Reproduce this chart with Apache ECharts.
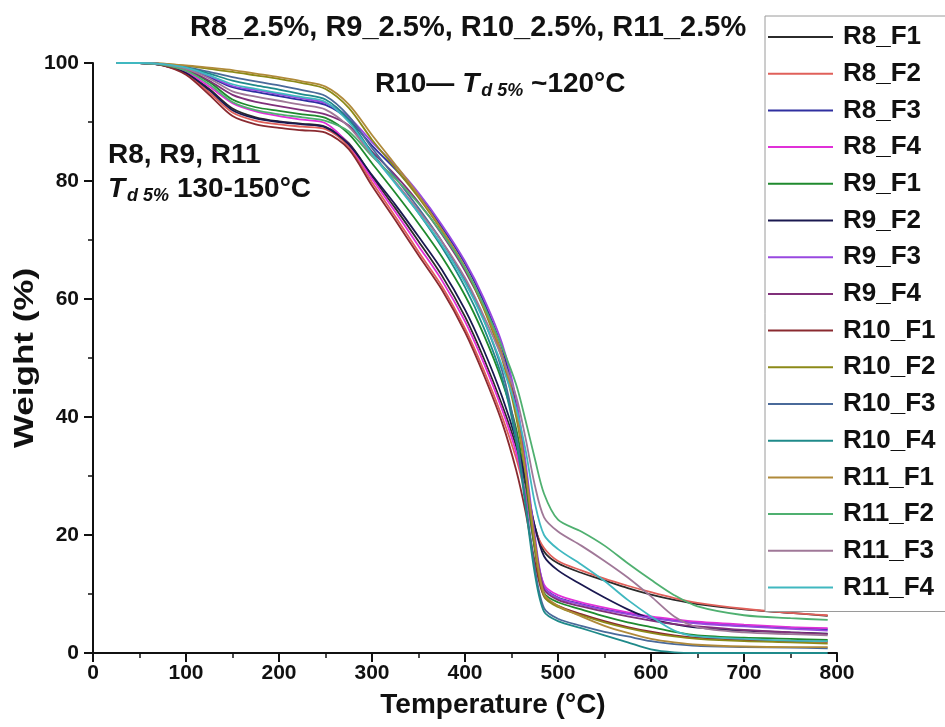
<!DOCTYPE html>
<html>
<head>
<meta charset="utf-8">
<script src="https://cdn.jsdelivr.net/npm/echarts@6/dist/echarts.min.js"></script>
<style>
  html, body { margin: 0; padding: 0; background: #fff; }
  #chart { width: 945px; height: 727px; }
</style>
</head>
<body>
<div id="chart"></div>
<script>
// TGA curves: weight (%) vs temperature (°C), all samples measured on one shared temperature grid
const temps = [25, 50, 75, 100, 125, 150, 175, 200, 225, 250, 275, 300, 325, 350, 375, 400, 420, 440, 455, 465, 475, 485, 500, 525, 550, 575, 600, 625, 650, 700, 750, 790];

const seriesNames = ['R8_F1', 'R8_F2', 'R8_F3', 'R8_F4', 'R9_F1', 'R9_F2', 'R9_F3', 'R9_F4',
                     'R10_F1', 'R10_F2', 'R10_F3', 'R10_F4', 'R11_F1', 'R11_F2', 'R11_F3', 'R11_F4'];

const seriesColors = ['#2b2b2b', '#e0605a', '#2f2fa0', '#e030d8', '#1f8a2e', '#1a1850', '#9848e0', '#80307a',
                      '#8a2a30', '#8c8a18', '#4a6a9a', '#1f8a8a', '#b08a3a', '#4fb070', '#a07898', '#40b8c0'];

const R8_F1 = [100, 100, 99.7, 98.4, 95.6, 92.3, 90.8, 90.1, 89.7, 89.2, 86.4, 80.8, 75.4, 69.8, 64.0, 57.0, 50.0, 42.0, 35, 28.5, 21.5, 17.2, 15.2, 13.6, 12.3, 11.0, 9.9, 9.0, 8.3, 7.4, 6.8, 6.3];
const R8_F2 = [100, 100, 99.6, 98.2, 95.0, 91.6, 90.2, 89.6, 89.2, 88.8, 85.8, 79.8, 74.0, 68.0, 62.2, 55.0, 48.0, 40.0, 33, 27, 21, 17.8, 15.6, 14.0, 12.6, 11.4, 10.3, 9.3, 8.5, 7.5, 6.8, 6.4];
const R8_F3 = [100, 100, 99.8, 99.1, 97.6, 95.9, 95.1, 94.4, 93.7, 92.9, 90.4, 86.0, 82.0, 77.6, 72.2, 66.0, 59.6, 51.6, 42, 31.5, 19, 11.2, 9.4, 8.3, 7.4, 6.7, 6.0, 5.5, 5.1, 4.6, 4.3, 4.0];
const R8_F4 = [100, 100, 99.7, 98.5, 96.0, 93.2, 91.8, 91.0, 90.4, 89.8, 86.2, 80.4, 74.8, 69.0, 63.2, 56.2, 49.2, 41.2, 34, 27, 18, 11.6, 9.8, 8.6, 7.7, 6.9, 6.2, 5.7, 5.3, 4.8, 4.4, 4.2];
const R9_F1 = [100, 100, 99.7, 98.8, 96.8, 93.8, 92.5, 91.9, 91.3, 90.7, 88.0, 83.0, 78.0, 72.8, 67.2, 60.6, 54.0, 46.0, 38, 29, 17.5, 10.2, 8.6, 7.4, 6.2, 5.2, 4.4, 3.6, 3.0, 2.6, 2.4, 2.2];
const R9_F2 = [100, 100, 99.6, 98.3, 95.4, 92.0, 90.6, 90.0, 89.6, 89.1, 86.2, 81.0, 76.0, 70.6, 65.0, 58.2, 51.4, 43.4, 36, 29.4, 21.5, 16.4, 14.0, 11.6, 9.4, 7.4, 5.8, 4.9, 4.3, 3.8, 3.5, 3.3];
const R9_F3 = [100, 100, 99.8, 99.2, 97.8, 96.1, 95.4, 94.7, 94.0, 93.2, 90.8, 86.6, 82.6, 78.0, 72.6, 66.4, 60.2, 52.4, 43, 32.5, 20, 11.2, 9.3, 8.2, 7.3, 6.6, 5.9, 5.4, 5.0, 4.5, 4.1, 3.8];
const R9_F4 = [100, 100, 99.7, 98.9, 97.0, 94.6, 93.4, 92.7, 92.0, 91.3, 89.4, 85.0, 81.0, 76.4, 71.0, 64.8, 58.6, 50.6, 41.5, 31, 19, 10.8, 9.0, 7.9, 7.0, 6.2, 5.5, 4.9, 4.5, 3.9, 3.5, 3.2];
const R10_F1 = [100, 100, 99.6, 98.0, 94.6, 91.0, 89.6, 89.0, 88.6, 88.2, 85.4, 79.2, 73.4, 67.4, 61.6, 54.4, 47.2, 39.0, 31, 24, 15.5, 9.6, 8.0, 6.6, 5.4, 4.4, 3.6, 3.0, 2.6, 2.2, 2.0, 1.9];
const R10_F2 = [100, 100, 99.9, 99.5, 99.0, 98.5, 97.9, 97.3, 96.6, 95.6, 92.4, 87.0, 82.2, 77.2, 71.6, 65.2, 58.4, 49.8, 40, 30.5, 18, 9.6, 7.8, 6.4, 5.2, 4.2, 3.4, 2.8, 2.4, 2.0, 1.8, 1.6];
const R10_F3 = [100, 100, 99.8, 99.3, 98.5, 97.6, 96.9, 96.2, 95.4, 94.4, 91.0, 85.6, 80.6, 75.4, 69.8, 63.2, 56.6, 47.8, 37, 26, 14.5, 7.6, 5.8, 4.6, 3.6, 2.8, 2.0, 1.5, 1.2, 1.0, 0.9, 0.8];
const R10_F4 = [100, 100, 99.8, 99.2, 98.2, 97.0, 96.2, 95.5, 94.7, 93.8, 90.4, 84.8, 79.8, 74.6, 68.8, 62.0, 55.2, 46.6, 36, 25, 13.5, 7.0, 5.4, 4.2, 3.0, 1.8, 0.6, 0.1, 0, 0, 0, 0];
const R11_F1 = [100, 100, 99.9, 99.6, 99.2, 98.8, 98.2, 97.6, 96.9, 96.0, 93.0, 87.8, 82.8, 77.6, 71.8, 65.4, 58.8, 50.4, 41, 31, 19, 10, 8.0, 6.2, 4.6, 3.4, 2.4, 1.8, 1.4, 1.1, 1.0, 1.0];
const R11_F2 = [100, 100, 99.7, 98.7, 96.4, 93.4, 92.0, 91.3, 90.8, 90.2, 88.4, 84.2, 80.4, 76.2, 71.2, 65.2, 59.0, 51.8, 45.5, 39.5, 33.0, 27.0, 22.6, 20.6, 18.2, 15.2, 12.4, 9.8, 7.9, 6.4, 5.9, 5.6];
const R11_F3 = [100, 100, 99.8, 99.0, 97.4, 95.2, 94.3, 93.6, 92.9, 92.1, 89.2, 84.4, 79.8, 75.0, 69.8, 63.6, 57.2, 50.0, 43.5, 36.5, 28.5, 23.0, 20.6, 18.2, 15.6, 12.8, 9.6, 6.2, 4.4, 3.5, 3.2, 3.0];
const R11_F4 = [100, 100, 99.8, 99.2, 97.9, 96.4, 95.6, 94.9, 94.2, 93.4, 90.0, 84.6, 79.6, 74.6, 69.2, 62.8, 56.4, 48.6, 41.5, 34.5, 25.5, 20.0, 17.6, 15.0, 12.2, 9.0, 6.2, 3.8, 2.8, 2.4, 2.1, 2.0];

const weightSets = [R8_F1, R8_F2, R8_F3, R8_F4, R9_F1, R9_F2, R9_F3, R9_F4,
                    R10_F1, R10_F2, R10_F3, R10_F4, R11_F1, R11_F2, R11_F3, R11_F4];

const xTicks = { min: 0, max: 800, interval: 100 };
const yTicks = { min: 0, max: 100, interval: 20 };

const FONT = 'Liberation Sans, Arial, sans-serif';

const chart = echarts.init(document.getElementById('chart'), null, { renderer: 'canvas' });

const series = seriesNames.map((name, i) => ({
  name: name,
  type: 'line',
  data: temps.map((t, k) => [t, weightSets[i][k]]),
  smooth: 0.3,
  symbol: 'none',
  showSymbol: false,
  lineStyle: { color: seriesColors[i], width: 1.8 },
  itemStyle: { color: seriesColors[i] },
  emphasis: { disabled: true },
  z: 2
}));

const labelStyle = { fontFamily: FONT, fontWeight: 'bold', fontSize: 21, color: '#111' };

const richTd = {
  n: { font: 'bold 28px ' + FONT, fill: '#111' },
  t: { font: 'italic bold 28px ' + FONT, fill: '#111' },
  s: { font: 'italic bold 18px ' + FONT, fill: '#111', padding: [14, 0, 0, 2] }
};

chart.setOption({
  backgroundColor: '#ffffff',
  animation: false,
  grid: { left: 93, right: 108, top: 63, bottom: 74, containLabel: false },
  xAxis: {
    type: 'value',
    min: xTicks.min, max: xTicks.max, interval: xTicks.interval,
    axisLine: { show: true, onZero: false, lineStyle: { color: '#111', width: 2 } },
    axisTick: { show: true, inside: false, length: 9, lineStyle: { color: '#111', width: 2 } },
    minorTick: { show: true, splitNumber: 2, length: 5, lineStyle: { color: '#111', width: 1.5 } },
    axisLabel: Object.assign({ margin: 10 }, labelStyle),
    splitLine: { show: false }
  },
  yAxis: {
    type: 'value',
    min: yTicks.min, max: yTicks.max, interval: yTicks.interval,
    axisLine: { show: true, onZero: false, lineStyle: { color: '#111', width: 2 } },
    axisTick: { show: true, inside: false, length: 9, lineStyle: { color: '#111', width: 2 } },
    minorTick: { show: true, splitNumber: 2, length: 5, lineStyle: { color: '#111', width: 1.5 } },
    axisLabel: Object.assign({ margin: 14 }, labelStyle),
    splitLine: { show: false }
  },
  legend: {
    data: seriesNames,
    orient: 'vertical',
    left: 765,
    top: 16,
    padding: [7, 200, 10, 3],
    icon: 'rect',
    itemWidth: 65,
    itemHeight: 2,
    itemGap: 8.7,
    backgroundColor: '#ffffff',
    borderColor: '#9a9a9a',
    borderWidth: 1,
    selectedMode: false,
    textStyle: { fontFamily: FONT, fontWeight: 'bold', fontSize: 26, lineHeight: 28, color: '#111', padding: [0, 0, 0, 5] },
    z: 10
  },
  graphic: [
    {
      // axis titles drawn as free text
      type: 'text', x: 25, y: 358, rotation: Math.PI / 2, scaleX: 1.25, z: 20,
      style: { text: 'Weight (%)', font: 'bold 28px ' + FONT, fill: '#111', align: 'center', verticalAlign: 'middle' }
    },
    {
      type: 'text', x: 493, y: 705, z: 20,
      style: { text: 'Temperature (°C)', font: 'bold 28px ' + FONT, fill: '#111', align: 'center', verticalAlign: 'middle' }
    },
    {
      type: 'text', left: 190, top: 13, z: 20,
      style: { text: 'R8_2.5%, R9_2.5%, R10_2.5%, R11_2.5%', font: 'bold 29px ' + FONT, fill: '#111' }
    },
    {
      type: 'text', left: 375, top: 70, z: 20,
      style: { text: '{n|R10— }{t|T}{s|d 5%}{n| ~120°C}', rich: richTd }
    },
    {
      type: 'text', left: 108, top: 141, z: 20,
      style: { text: 'R8, R9, R11', font: 'bold 28px ' + FONT, fill: '#111' }
    },
    {
      type: 'text', left: 108, top: 175, z: 20,
      style: { text: '{t|T}{s|d 5%}{n| 130-150°C}', rich: richTd }
    }
  ],
  series: series
});
</script>
</body>
</html>
